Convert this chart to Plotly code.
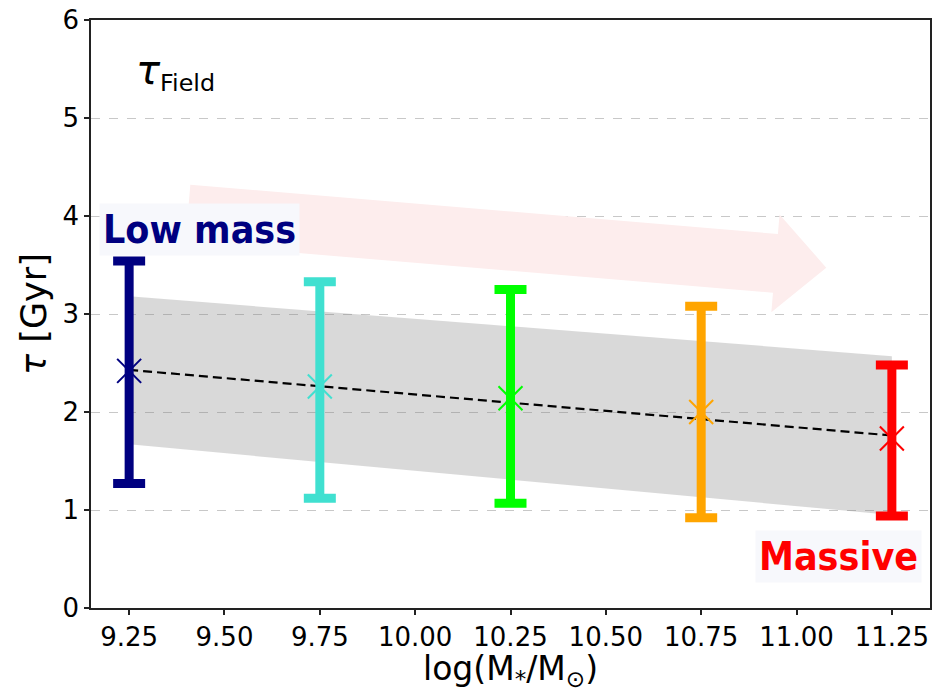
import numpy as np
import plotly.graph_objects as go

# ---------------- data ----------------
mass_bins = [9.25, 9.75, 10.25, 10.75, 11.25]
tau_center = [2.42, 2.26, 2.14, 2.00, 1.73]
tau_upper = [3.54, 3.33, 3.25, 3.08, 2.48]
tau_lower = [1.27, 1.12, 1.07, 0.92, 0.94]
bin_colors = ["#000080", "#40e0d0", "#00ff00", "#ffa500", "#ff0000"]

fit_x = [9.25, 11.25]
fit_y = [2.43, 1.76]
band_x = [9.25, 11.25]
band_upper = [3.18, 2.57]
band_lower = [1.67, 0.95]

x_ticks = [9.25, 9.50, 9.75, 10.00, 10.25, 10.50, 10.75, 11.00, 11.25]
y_ticks = [0, 1, 2, 3, 4, 5, 6]

X_RANGE = [9.15, 11.35]
Y_RANGE = [0, 6]

W, H = 949, 690
M = dict(l=91, r=19, t=20, b=82)

fig = go.Figure()

# shaded band
fig.add_trace(go.Scatter(
    x=band_x + band_x[::-1], y=band_upper + band_lower[::-1],
    fill="toself", fillcolor="rgba(128,128,128,0.3)", line=dict(width=0),
    mode="lines", hoverinfo="skip", showlegend=False))

# fit line
fig.add_trace(go.Scatter(
    x=fit_x, y=fit_y, mode="lines",
    line=dict(color="black", width=2.2, dash="9px,5px"), showlegend=False))

# error bars + markers
for xv, c, up, lo, col in zip(mass_bins, tau_center, tau_upper, tau_lower, bin_colors):
    fig.add_trace(go.Scatter(
        x=[xv], y=[c], mode="markers",
        marker=dict(symbol="x-thin", size=24, line=dict(color=col, width=2)),
        error_y=dict(type="data", symmetric=False, array=[up - c], arrayminus=[c - lo],
                     color=col, thickness=9, width=16),
        showlegend=False))

# arrow (decoration) computed in pixel space then converted to data
pw = W - M["l"] - M["r"]
ph = H - M["t"] - M["b"]
sx = pw / (X_RANGE[1] - X_RANGE[0])
sy = ph / (Y_RANGE[1] - Y_RANGE[0])
a_start = (9.404, 4.019)
a_end = (11.078, 3.473)
body_hw, head_hw, head_len = 29.5, 49.0, 51.0
p0 = np.array([a_start[0] * sx, -a_start[1] * sy])
p1 = np.array([a_end[0] * sx, -a_end[1] * sy])
d = (p1 - p0) / np.linalg.norm(p1 - p0)
n = np.array([-d[1], d[0]])
base = p1 - d * head_len
pts = [p0 + n * body_hw, base + n * body_hw, base + n * head_hw, p1,
       base - n * head_hw, base - n * body_hw, p0 - n * body_hw]
path = "M " + " L ".join(f"{p[0] / sx:.5f},{-p[1] / sy:.5f}" for p in pts) + " Z"
fig.add_shape(type="path", path=path, xref="x", yref="y",
              fillcolor="#fdeded", line=dict(width=0), layer="between")

# labels
fig.add_annotation(x=9.434, y=3.866, xref="x", yref="y", text="<b>Low mass</b>",
                   showarrow=False, font=dict(family="DejaVu Sans Condensed, DejaVu Sans", size=39, color="#000080"),
                   bgcolor="#f7f8fc", borderpad=3, xanchor="center", yanchor="middle")
fig.add_annotation(x=11.109, y=0.521, xref="x", yref="y", text="<b>Massive</b>",
                   showarrow=False, font=dict(family="DejaVu Sans Condensed, DejaVu Sans", size=39, color="#ff0000"),
                   bgcolor="#f7f8fc", borderpad=3, xanchor="center", yanchor="middle")
fig.add_annotation(x=9.262, y=5.47, xref="x", yref="y",
                   text="<span style='font-size:40px'><i>τ</i></span><sub>Field</sub>",
                   showarrow=False, font=dict(family="DejaVu Sans", size=34, color="black"),
                   xanchor="left", yanchor="middle")

# axis titles
fig.add_annotation(x=0.5, y=-0.107, xref="paper", yref="paper",
                   text="log(M<sub>*</sub>/M<sub>⊙</sub>)", showarrow=False,
                   font=dict(family="DejaVu Sans", size=33, color="black"),
                   xanchor="center", yanchor="middle")
fig.add_annotation(x=-0.068, y=0.50, xref="paper", yref="paper",
                   text="<i>τ</i> [Gyr]", showarrow=False, textangle=-90,
                   font=dict(family="DejaVu Sans", size=35, color="black"),
                   xanchor="center", yanchor="middle")

axis_common = dict(showline=True, linecolor="#222", linewidth=1.5, mirror=True,
                   ticks="outside", ticklen=5, tickwidth=1.5, tickcolor="#222", automargin=False,
                   tickfont=dict(family="DejaVu Sans", size=26, color="black"), zeroline=False)

fig.update_xaxes(range=X_RANGE, tickvals=x_ticks, ticktext=[f"{v:.2f}" for v in x_ticks],
                 showgrid=False, **axis_common)
fig.update_yaxes(range=Y_RANGE, tickvals=y_ticks, showgrid=True, gridcolor="#c8c8c8", griddash="dash",
                 gridwidth=1, **axis_common)

fig.update_layout(width=W, height=H, margin=M, plot_bgcolor="white", paper_bgcolor="white",
                  showlegend=False)

fig.write_html("out.html")
